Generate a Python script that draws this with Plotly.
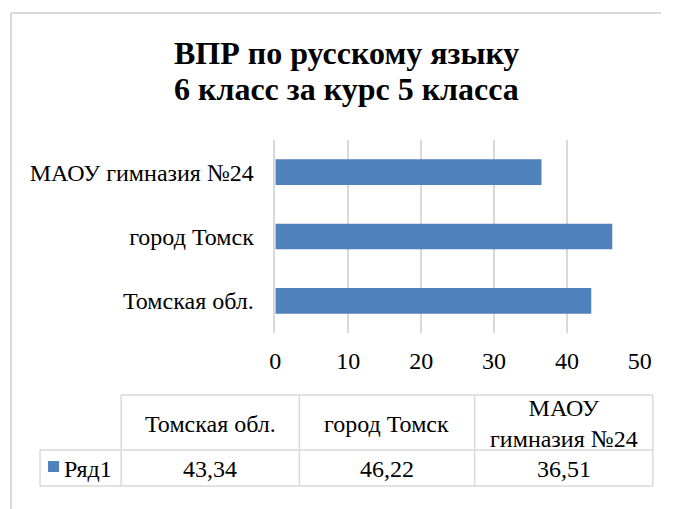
import plotly.graph_objects as go

categories = ["Томская обл.", "город Томск", "МАОУ гимназия №24"]
header_labels = ["Томская обл.", "город Томск", "МАОУ<br>гимназия №24"]
values = [43.34, 46.22, 36.51]
series_name = "Ряд1"
title_lines = ["ВПР по русскому языку", "6 класс за курс 5 класса"]
x_ticks = [0, 10, 20, 30, 40, 50]

W, H = 673, 509
FONT = "Liberation Serif"
GRID = "#d9d9d9"
BAR = "#4f81bd"
FS = 24

# horizontal correction measured from previous renders (x_shown ~= 0.972*x + 5)
KX, BX = 0.972, 5.0


def fx(px):
    return min(max((px - BX) / KX / W, 0), 1)


def fy(py):
    return 1 - py / H


fig = go.Figure()
fig.add_trace(go.Bar(
    x=values, y=categories, orientation="h",
    marker=dict(color=BAR, line=dict(width=0)),
    name=series_name, showlegend=False, hoverinfo="x+y",
))

shapes = []
frame = dict(color=GRID, width=2)
shapes.append(dict(type="line", xref="paper", yref="paper", x0=fx(10), x1=fx(10), y0=0, y1=fy(13), line=frame))
shapes.append(dict(type="line", xref="paper", yref="paper", x0=fx(10), x1=1, y0=fy(13), y1=fy(13), line=frame))

tl = dict(color=GRID, width=1.5)
col_x = [120, 298, 473, 651]
y_top, y_mid, y_bot = 395, 450, 486
row_left = 39
shapes.append(dict(type="line", xref="paper", yref="paper", x0=fx(col_x[0]), x1=fx(col_x[-1]), y0=fy(y_top), y1=fy(y_top), line=tl))
shapes.append(dict(type="line", xref="paper", yref="paper", x0=fx(row_left), x1=fx(col_x[-1]), y0=fy(y_mid), y1=fy(y_mid), line=tl))
shapes.append(dict(type="line", xref="paper", yref="paper", x0=fx(row_left), x1=fx(col_x[-1]), y0=fy(y_bot), y1=fy(y_bot), line=tl))
for c in col_x:
    shapes.append(dict(type="line", xref="paper", yref="paper", x0=fx(c), x1=fx(c), y0=fy(y_top), y1=fy(y_bot), line=tl))
shapes.append(dict(type="line", xref="paper", yref="paper", x0=fx(row_left), x1=fx(row_left), y0=fy(y_mid), y1=fy(y_bot), line=tl))
shapes.append(dict(type="rect", xref="paper", yref="paper", x0=fx(47), x1=fx(58), y0=fy(472), y1=fy(461),
                   line=dict(width=0), fillcolor=BAR))

annotations = []
for i, t in enumerate(title_lines):
    annotations.append(dict(text=f"<b>{t}</b>", x=fx(345), y=fy(53 + i * 36), xref="paper", yref="paper",
                            xanchor="center", yanchor="middle", showarrow=False,
                            font=dict(family=FONT, size=32, color="#000000")))
for i in range(len(categories)):
    c = (col_x[i] + col_x[i + 1]) / 2
    annotations.append(dict(text=header_labels[i], x=fx(c), y=fy((y_top + y_mid) / 2 + 1), xref="paper", yref="paper",
                            xanchor="center", yanchor="middle", showarrow=False,
                            font=dict(family=FONT, size=FS, color="#000000")))
    annotations.append(dict(text=f"{values[i]:.2f}".replace(".", ","), x=fx(c), y=fy((y_mid + y_bot) / 2 + 1),
                            xref="paper", yref="paper", xanchor="center", yanchor="middle", showarrow=False,
                            font=dict(family=FONT, size=FS, color="#000000")))
annotations.append(dict(text=series_name, x=fx(61), y=fy((y_mid + y_bot) / 2 + 1), xref="paper", yref="paper",
                        xanchor="left", yanchor="middle", showarrow=False,
                        font=dict(family=FONT, size=FS, color="#000000")))

fig.update_layout(
    width=W, height=H,
    autosize=False,
    margin=dict(l=0, r=0, t=0, b=0, pad=0),
    paper_bgcolor="white", plot_bgcolor="white",
    bargap=0.6,
    font=dict(family=FONT, size=FS, color="#000000"),
    xaxis=dict(domain=[fx(274), fx(638)], range=[0, 50], tickvals=x_ticks,
               showgrid=True, gridcolor=GRID, gridwidth=1.5, zeroline=False,
               showline=False, ticks="", ticklabelstandoff=11,
               tickfont=dict(family=FONT, size=FS, color="#000000"), fixedrange=True),
    yaxis=dict(domain=[fy(333), fy(140)], showgrid=False, zeroline=False,
               showline=True, linecolor=GRID, linewidth=1.5, ticks="", ticklabelstandoff=15,
               tickfont=dict(family=FONT, size=FS, color="#000000"), fixedrange=True),
    shapes=shapes,
    annotations=annotations,
)

post = (
    "var s=document.createElement('style');"
    "s.textContent='html,body{margin:0!important;padding:0!important;overflow:hidden!important;}';"
    "document.head.appendChild(s);"
)
fig.write_html("out.html", config={"displayModeBar": False}, post_script=post)
